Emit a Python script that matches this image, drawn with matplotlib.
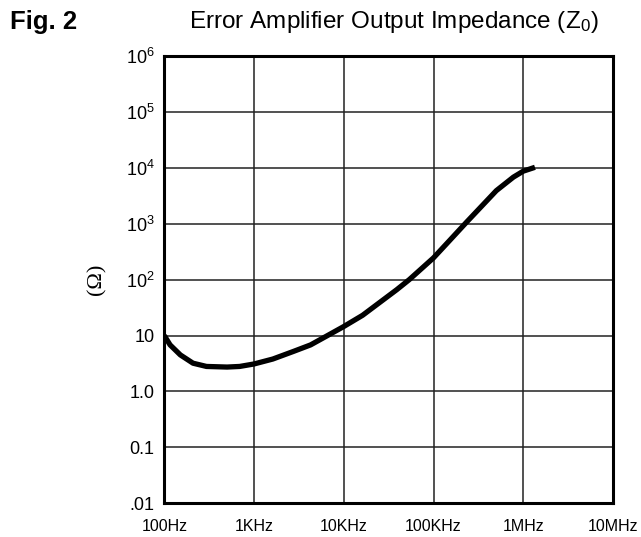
import matplotlib
matplotlib.use("Agg")
import matplotlib.pyplot as plt

plt.rcParams['font.family'] = ['Liberation Sans', 'DejaVu Sans']
plt.rcParams['mathtext.fontset'] = 'custom'
plt.rcParams['mathtext.rm'] = 'Liberation Sans'
plt.rcParams['mathtext.it'] = 'Liberation Sans'

# curve
freq = [100, 116, 151, 209, 295, 501, 692, 1000, 1620, 2750, 4270, 6300,
        10000, 16200, 38900, 53700, 100000, 151000, 234000, 501000, 776000,
        1000000, 1350000]
impedance = [10, 6.8, 4.5, 3.2, 2.8, 2.73, 2.8, 3.1, 3.8, 5.2, 6.8, 9.6,
             14.5, 23, 66, 100, 245, 500, 1070, 3900, 6800, 8700, 10200]

x_ticks = [1e2, 1e3, 1e4, 1e5, 1e6, 1e7]
x_labels = ['100Hz', '1KHz', '10KHz', '100KHz', '1MHz', '10MHz']
y_ticks = [1e-2, 1e-1, 1e0, 1e1, 1e2, 1e3, 1e4, 1e5, 1e6]
y_labels = ['.01', '0.1', '1.0', '10', r'$\mathregular{10^2}$', r'$\mathregular{10^3}$',
            r'$\mathregular{10^4}$', r'$\mathregular{10^5}$', r'$\mathregular{10^6}$']

fig = plt.figure(figsize=(6.41, 5.37), dpi=100)
ax = fig.add_axes([0.2563, 0.0628, 0.700, 0.833])

ax.plot(freq, impedance, color='black', lw=3.8, solid_capstyle='butt',
        solid_joinstyle='round', zorder=3)

ax.set_xscale('log')
ax.set_yscale('log')
ax.set_xlim(1e2, 1e7)
ax.set_ylim(1e-2, 1e6)
ax.set_xticks(x_ticks)
ax.set_xticklabels(x_labels, fontsize=11.5)
ax.set_yticks(y_ticks)
ax.set_yticklabels(y_labels, fontsize=13)
ax.minorticks_off()
ax.tick_params(length=0)
ax.tick_params(axis='x', pad=11)
ax.tick_params(axis='y', pad=7)
ax.grid(True, color='#222222', lw=1.1)

for s in ax.spines.values():
    s.set_linewidth(2.2)
    s.set_zorder(4)

ax.set_ylabel('(Ω)', fontsize=16, labelpad=14, family=['Liberation Serif', 'DejaVu Serif'])

fig.text(0.016, 0.959, 'Fig. 2', fontsize=18.5, fontweight='bold', va='center', ha='left')
fig.text(0.615, 0.959, r'Error Amplifier Output Impedance (Z$_\mathregular{0}$)',
         fontsize=17.5, va='center', ha='center')

fig.savefig('out.png', dpi=100)
